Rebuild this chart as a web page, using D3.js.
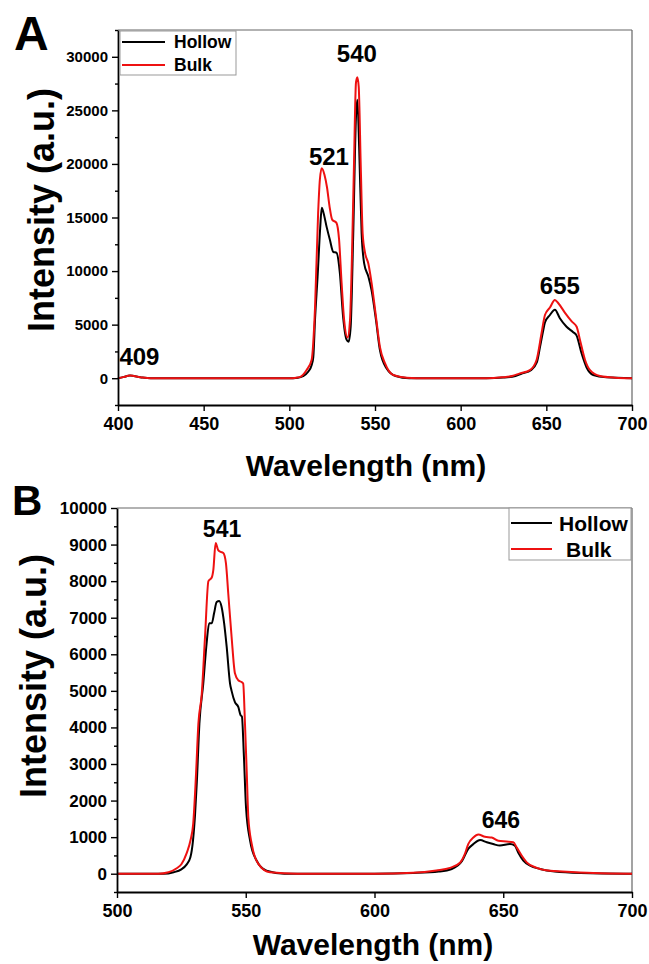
<!DOCTYPE html>
<html lang="en">
<head>
    <meta charset="UTF-8">
    <title>Emission spectra</title>
    <script src="https://cdn.jsdelivr.net/npm/d3@7"></script>
    <style>
        body, html { margin: 0; padding: 0; background: #fff; overflow: hidden; }
        svg { display: block; }
        text { font-family: "Liberation Sans", Arial, sans-serif; font-weight: bold; }
    </style>
</head>
<body>
    <svg id="mainsvg"></svg>
    <script>
        // ---- data: [wavelength nm, intensity a.u.] ----
        const hollowA = [[400,0],[403,100],[407,250],[413,100],[419,0],[500,0],[505,50],[508,200],[511,600],[513,1200],[514,2000],
            [515,5500],[516.5,9500],[518,14000],[518.9,15900],[520,15400],[521.8,14100],[523.7,12900],[525.6,11800],[527.6,11700],
            [529.5,9800],[531.4,5700],[533.4,3600],[534.6,3400],[535.8,4800],[537.3,13500],[538.9,24400],[539.7,26000],[540.8,21300],
            [542.2,13500],[543.7,10700],[546.1,9500],[548,8200],[550.6,5400],[552.9,2600],[556.8,900],[562,200],[570,0],[615,0],
            [625,60],[632,200],[636,450],[641,750],[644.5,1500],[646.3,2900],[648,4300],[649.2,5200],[652.1,5900],[655,6400],[657.9,5600],
            [661.8,4800],[665.7,4300],[667.6,4000],[670.6,2300],[673.5,1000],[677.4,300],[685,80],[700,0]];
        const bulkA = [[400,0],[403,100],[407,250],[413,100],[419,0],[500,0],[504,50],[506,100],[510,750],[513,1700],[515,6600],
            [516.8,15400],[517.8,18500],[518.9,19600],[520.5,19000],[522,17800],[523.5,16000],[525,14800],[527.5,14500],[529,13000],
            [530.5,8900],[532,5400],[534,3800],[535.4,5400],[536.4,10400],[537.7,19700],[538.9,27600],[539.7,28100],[540.5,27200],
            [541.7,19700],[542.8,13500],[544.2,11700],[546.1,10700],[548,8900],[550.6,5700],[552.9,2900],[555.8,1400],[560.6,300],
            [568.4,50],[580,0],[615,0],[624,80],[630,200],[634.6,450],[640.4,750],[644.3,1700],[647.2,4200],[649.2,5900],[652.1,6600],
            [655,7300],[657,7000],[660.9,6100],[664.8,5300],[667.7,4800],[669.6,3600],[672.6,1700],[675.5,750],[681.3,200],
            [690,50],[700,0]];

        const hollowB = [[500,0],[518,0],[522,40],[525,120],[527,250],[528.5,450],[529.5,900],[530.3,1600],[531,2500],[532,4100],
            [533.5,5200],[534.8,6300],[535.8,6850],[536.8,6850],[537.7,7120],[538.7,7430],[539.7,7460],[540.6,7300],[541.6,6850],
            [542.6,6200],[543.9,5200],[544.5,5000],[545.8,4690],[547.1,4560],[548,4330],[548.5,4300],[549.3,3190],[550.1,1820],
            [551.7,900],[554.2,360],[558.1,80],[565,0],[600,0],[615,20],[625,60],[630,130],[634,350],[636.4,680],[638.4,810],[641,920],
            [643.6,860],[646.1,810],[648.7,770],[652.6,810],[654.5,770],[655.8,580],[657.8,360],[660.4,220],[664.3,130],[670,60],
            [680,20],[700,0]];
        const bulkB = [[500,0],[516,0],[520,40],[523.2,150],[525,260],[527.1,570],[528.5,900],[529.6,1370],[530.7,2740],[531.6,4100],
            [532.9,4900],[534.2,6500],[535.5,8000],[536.8,8100],[537.4,8300],[538.3,9040],[539.3,8850],[540.3,8800],[541.3,8770],
            [542.3,8490],[543.2,7670],[544.5,6480],[545.8,5480],[547.1,5290],[548.4,5240],[549,5200],[549.7,4100],[550.4,2740],
            [551,1540],[552.3,820],[554.9,270],[559.4,40],[570,0],[600,0],[615,25],[624,90],[629.3,160],[633.2,300],[635.1,540],
            [636.4,810],[638.4,990],[640.3,1070],[642.9,1010],[645.5,990],[648.1,900],[651.3,880],[653.9,860],[655.2,720],
            [657.2,490],[659.1,310],[663,160],[668.2,80],[673,60],[685,20],[700,0]];

        // peak labels: [text, wavelength, intensity]
        const peaksA = [['409', 412.5, 1215], ['521', 523.1, 19900], ['540', 539.4, 29530], ['655', 657.9, 7850]];
        const peaksB = [['541', 540.8, 9200], ['646', 649.1, 1260]];

        const xTicksA = [400, 450, 500, 550, 600, 650, 700];
        const yTicksA = [0, 5000, 10000, 15000, 20000, 25000, 30000];
        const yMinorA = [-2500, 2500, 7500, 12500, 17500, 22500, 27500, 32500];
        const xTicksB = [500, 550, 600, 650, 700];
        const yTicksB = [0, 1000, 2000, 3000, 4000, 5000, 6000, 7000, 8000, 9000, 10000];
        const yMinorB = [-500, 500, 1500, 2500, 3500, 4500, 5500, 6500, 7500, 8500, 9500];

        const seriesNames = ['Hollow', 'Bulk'];
        const seriesColors = ['#000000', '#ee1111'];

        const width = 649, height = 964;
        const svg = d3.select('#mainsvg').attr('width', width).attr('height', height);

        function drawPanel(p) {
            const x = d3.scaleLinear().domain(p.xDomain).range([p.left, p.right]);
            const y = d3.scaleLinear().domain(p.yDomain).range([p.bottom, p.top]);
            const g = svg.append('g');

            // gray frame top / right
            g.append('line').attr('x1', p.left).attr('x2', p.right).attr('y1', p.top).attr('y2', p.top)
                .attr('stroke', '#666').attr('stroke-width', 1.2);
            g.append('line').attr('x1', p.right).attr('x2', p.right).attr('y1', p.top).attr('y2', p.bottom)
                .attr('stroke', '#666').attr('stroke-width', 1.2);

            const line = d3.line().x(d => x(d[0])).y(d => y(d[1])).curve(d3.curveMonotoneX);
            p.series.forEach((s, i) => {
                g.append('path').datum(s).attr('d', line).attr('fill', 'none')
                    .attr('stroke', seriesColors[i]).attr('stroke-width', 2).attr('stroke-linejoin', 'round');
            });

            // axes
            const yMinor = g.append('g').attr('transform', `translate(${p.left},0)`)
                .call(d3.axisLeft(y).tickValues(p.yMinor).tickSize(3).tickFormat(''));
            yMinor.select('.domain').remove();
            const yAxis = g.append('g').attr('transform', `translate(${p.left},0)`)
                .call(d3.axisLeft(y).tickValues(p.yTicks).tickSize(6).tickSizeOuter(0).tickPadding(4).tickFormat(d3.format('d')));
            const xAxis = g.append('g').attr('transform', `translate(0,${p.bottom})`)
                .call(d3.axisBottom(x).tickValues(p.xTicks).tickSize(6).tickSizeOuter(0).tickPadding(6).tickFormat(d3.format('d')));
            g.selectAll('.domain').attr('stroke', '#000').attr('stroke-width', 1.8);
            g.selectAll('.tick line').attr('stroke', '#000').attr('stroke-width', 1.4);
            yAxis.selectAll('text').attr('font-size', p.yTickFont).attr('fill', '#000')
                .attr('font-family', '"Liberation Sans", Arial, sans-serif').attr('font-weight', 'bold');
            xAxis.selectAll('text').attr('font-size', p.xTickFont).attr('fill', '#000')
                .attr('font-family', '"Liberation Sans", Arial, sans-serif').attr('font-weight', 'bold');

            // peak labels
            g.selectAll('.peak').data(p.peaks).enter().append('text').attr('class', 'peak')
                .attr('x', d => x(d[1])).attr('y', d => y(d[2])).attr('text-anchor', 'middle')
                .attr('font-size', p.peakFont).text(d => d[0]);

            // titles
            g.append('text').attr('x', p.xTitle[0]).attr('y', p.xTitle[1]).attr('text-anchor', 'middle')
                .attr('font-size', 30).text('Wavelength (nm)');
            g.append('text').attr('transform', `translate(${p.yTitle[0]},${p.yTitle[1]}) rotate(-90)`)
                .attr('text-anchor', 'middle').attr('font-size', 36).text('Intensity (a.u.)');
            g.append('text').attr('x', p.letterPos[0]).attr('y', p.letterPos[1])
                .attr('font-size', p.letterFont).text(p.letter);

            // legend
            const L = p.legend;
            g.append('rect').attr('x', L.x).attr('y', L.y).attr('width', L.w).attr('height', L.h)
                .attr('fill', '#fff').attr('stroke', '#999').attr('stroke-width', 1);
            seriesNames.forEach((name, i) => {
                g.append('line').attr('x1', L.x + 2).attr('x2', L.x + L.lineLen)
                    .attr('y1', L.rows[i]).attr('y2', L.rows[i])
                    .attr('stroke', seriesColors[i]).attr('stroke-width', 2.2);
                g.append('text').attr('x', L.textX[i]).attr('y', L.rows[i] + L.font * 0.36)
                    .attr('font-size', L.font).text(name);
            });
        }

        drawPanel({
            series: [hollowA, bulkA], peaks: peaksA,
            xDomain: [400, 700], yDomain: [-2500, 32500],
            xTicks: xTicksA, yTicks: yTicksA, yMinor: yMinorA,
            left: 118, right: 632, top: 30, bottom: 405,
            yTickFont: 15, xTickFont: 18, peakFont: 24,
            xTitle: [366, 476], yTitle: [54, 210],
            letter: 'A', letterPos: [14, 50], letterFont: 48,
            legend: { x: 120, y: 31, w: 116, h: 44, lineLen: 45, rows: [42, 65], textX: [174, 174], font: 17.5 }
        });

        drawPanel({
            series: [hollowB, bulkB], peaks: peaksB,
            xDomain: [500, 700], yDomain: [-500, 10000],
            xTicks: xTicksB, yTicks: yTicksB, yMinor: yMinorB,
            left: 117, right: 632, top: 508, bottom: 892,
            yTickFont: 17, xTickFont: 18, peakFont: 23,
            xTitle: [373, 955], yTitle: [46, 676],
            letter: 'B', letterPos: [12, 515], letterFont: 42,
            legend: { x: 509, y: 508, w: 122, h: 52, lineLen: 43, rows: [523, 549], textX: [559, 566], font: 21 }
        });
    </script>
</body>
</html>
